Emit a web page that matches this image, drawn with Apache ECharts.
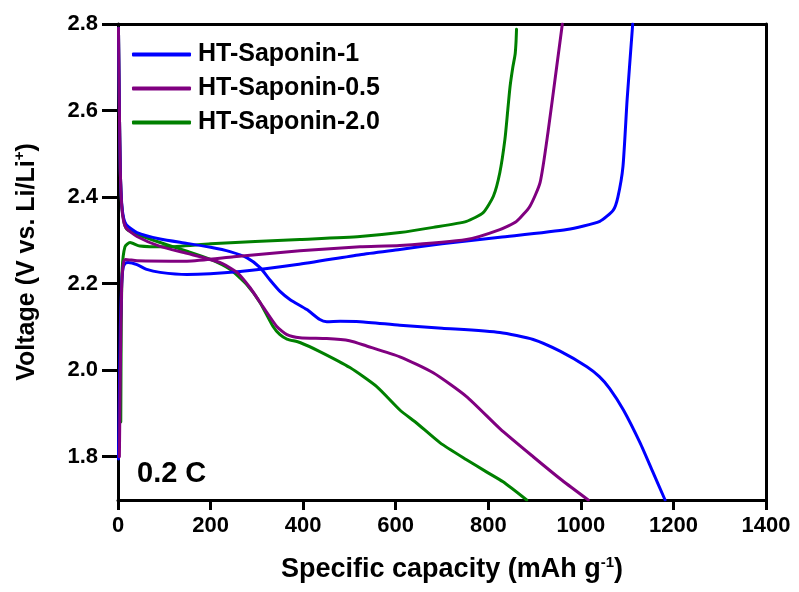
<!DOCTYPE html>
<html>
<head>
<meta charset="utf-8">
<title>Voltage profiles, 0.2 C</title>
<script src="https://cdn.jsdelivr.net/npm/echarts@6/dist/echarts.min.js"></script>
<style>
  html, body { margin: 0; padding: 0; background: #ffffff; }
  #chart { width: 799px; height: 592px; }
</style>
</head>
<body>
<div id="chart"></div>
<script>
// Series names and colours
const seriesNames = ['HT-Saponin-1', 'HT-Saponin-0.5', 'HT-Saponin-2.0'];
const seriesColors = ['#0000ff', '#800080', '#008000'];

// Axis ranges and ticks
const capacityTicks = [0, 200, 400, 600, 800, 1000, 1200, 1400];
const voltageTicks = [1.8, 2.0, 2.2, 2.4, 2.6, 2.8];

// HT-Saponin-1: [capacity (mAh/g), voltage (V)]
const saponin1Discharge = [
  [1, 2.79], [3, 2.6], [5, 2.46], [8, 2.385], [12, 2.352], [18, 2.336], [41, 2.318],
  [91, 2.303], [149, 2.293], [200, 2.284], [242, 2.274], [278, 2.26], [307, 2.237],
  [328, 2.209], [350, 2.182], [372, 2.163], [408, 2.14], [436, 2.117], [451, 2.112],
  [480, 2.113], [523, 2.112], [609, 2.104], [700, 2.097], [825, 2.087], [897, 2.071],
  [955, 2.044], [1013, 2.008], [1040, 1.985], [1062, 1.958], [1092, 1.908], [1128, 1.832],
  [1155, 1.766], [1182, 1.70]
];
const saponin1Charge = [
  [1, 1.795], [3, 1.95], [5, 2.1], [8, 2.2], [11, 2.237], [16, 2.247], [22, 2.249],
  [41, 2.244], [62, 2.233], [91, 2.226], [149, 2.221], [264, 2.228], [387, 2.244],
  [523, 2.267], [609, 2.279], [700, 2.292], [825, 2.307], [970, 2.325], [1041, 2.344],
  [1070, 2.37], [1080, 2.40], [1091, 2.471], [1100, 2.626], [1112, 2.80]
];

// HT-Saponin-0.5
const saponin05Discharge = [
  [1, 2.79], [3, 2.6], [5, 2.46], [8, 2.38], [12, 2.345], [18, 2.328], [41, 2.309],
  [91, 2.286], [149, 2.27], [220, 2.249], [257, 2.226], [285, 2.191], [313, 2.147],
  [343, 2.101], [365, 2.082], [393, 2.075], [451, 2.073], [500, 2.068], [537, 2.056],
  [609, 2.031], [681, 1.994], [753, 1.939], [825, 1.865], [897, 1.80], [960, 1.745],
  [1016, 1.70]
];
const saponin05Charge = [
  [3, 1.80], [5, 2.0], [8, 2.2], [12, 2.25], [16, 2.256], [41, 2.253], [149, 2.252],
  [250, 2.262], [393, 2.276], [523, 2.285], [609, 2.288], [753, 2.302], [825, 2.325],
  [861, 2.344], [890, 2.379], [912, 2.434], [929, 2.55], [948, 2.703], [960, 2.80]
];

// HT-Saponin-2.0
const saponin20Discharge = [
  [1, 2.79], [3, 2.6], [5, 2.46], [8, 2.38], [13, 2.342], [19, 2.326], [41, 2.314],
  [91, 2.295], [149, 2.275], [200, 2.256], [242, 2.233], [278, 2.198], [307, 2.156],
  [335, 2.101], [350, 2.082], [365, 2.072], [393, 2.064], [436, 2.043], [501, 2.006],
  [559, 1.962], [609, 1.908], [645, 1.878], [696, 1.832], [753, 1.793], [796, 1.765],
  [832, 1.742], [883, 1.70]
];
const saponin20Charge = [
  [6, 1.88], [7, 2.1], [9, 2.233], [15, 2.285], [26, 2.295], [47, 2.287], [105, 2.285],
  [200, 2.292], [393, 2.302], [523, 2.309], [609, 2.318], [681, 2.33], [753, 2.344],
  [789, 2.364], [811, 2.402], [825, 2.457], [836, 2.534], [842, 2.60], [847, 2.655],
  [853, 2.70], [858, 2.73], [860, 2.76], [861, 2.788]
];

const curves = [
  { name: seriesNames[2], color: seriesColors[2], data: saponin20Discharge },
  { name: seriesNames[2], color: seriesColors[2], data: saponin20Charge },
  { name: seriesNames[0], color: seriesColors[0], data: saponin1Discharge },
  { name: seriesNames[0], color: seriesColors[0], data: saponin1Charge },
  { name: seriesNames[1], color: seriesColors[1], data: saponin05Discharge },
  { name: seriesNames[1], color: seriesColors[1], data: saponin05Charge }
];

const FONT = '"Liberation Sans", Arial, Helvetica, sans-serif';
const axisLineStyle = { color: '#000', width: 3 };

const chart = echarts.init(document.getElementById('chart'), null, { renderer: 'canvas' });

chart.setOption({
  backgroundColor: '#ffffff',
  animation: false,
  grid: { left: 118, right: 33, top: 24, bottom: 92, containLabel: false },
  legend: {
    data: [seriesNames[0], seriesNames[1], seriesNames[2]],
    orient: 'vertical',
    left: 127,
    top: 37,
    icon: 'roundRect',
    itemWidth: 59,
    itemHeight: 4,
    itemGap: 9,
    textStyle: { fontFamily: FONT, fontWeight: 'bold', fontSize: 25, color: '#000', lineHeight: 24, padding: [0, 0, 0, 2] }
  },
  xAxis: [
    {
      type: 'value',
      min: 0, max: 1400, interval: 200,
      position: 'bottom',
      name: '{t|Specific capacity (mAh g}{s|-1}{t|)}',
      nameLocation: 'middle',
      nameGap: 55,
      nameTextStyle: {
        padding: [0, 0, 0, 20],
        rich: {
          t: { fontFamily: FONT, fontWeight: 'bold', fontSize: 27, color: '#000', lineHeight: 30 },
          s: { fontFamily: FONT, fontWeight: 'bold', fontSize: 15, color: '#000', verticalAlign: 'top', lineHeight: 30, padding: [0, 0, 10, 0] }
        }
      },
      axisLine: { show: true, onZero: false, lineStyle: axisLineStyle },
      axisTick: { show: true, inside: false, length: 10, lineStyle: { color: '#000', width: 3 } },
      axisLabel: {
        margin: 15, fontFamily: FONT, fontWeight: 'bold', fontSize: 22, color: '#000',
        customValues: capacityTicks,
        formatter: v => String(v)
      },
      splitLine: { show: false }
    },
    {
      type: 'value',
      min: 0, max: 1400,
      position: 'top',
      axisLine: { show: true, onZero: false, lineStyle: axisLineStyle },
      axisTick: { show: false },
      axisLabel: { show: false },
      splitLine: { show: false }
    }
  ],
  yAxis: [
    {
      type: 'value',
      min: 1.7, max: 2.8,
      position: 'left',
      name: '{t|Voltage (V vs. Li/Li}{s|+}{t|)}',
      nameLocation: 'middle',
      nameRotate: 90,
      nameGap: 76,
      nameTextStyle: {
        rich: {
          t: { fontFamily: FONT, fontWeight: 'bold', fontSize: 25, color: '#000', lineHeight: 30 },
          s: { fontFamily: FONT, fontWeight: 'bold', fontSize: 15, color: '#000', verticalAlign: 'top', lineHeight: 30, padding: [0, 0, 10, 0] }
        }
      },
      axisLine: { show: true, onZero: false, lineStyle: axisLineStyle },
      axisTick: { show: true, inside: false, length: 16, lineStyle: { color: '#000', width: 3 }, customValues: voltageTicks },
      axisLabel: {
        margin: 20, fontFamily: FONT, fontWeight: 'bold', fontSize: 22, color: '#000',
        customValues: voltageTicks,
        formatter: v => v.toFixed(1)
      },
      splitLine: { show: false }
    },
    {
      type: 'value',
      min: 1.7, max: 2.8,
      position: 'right',
      axisLine: { show: true, onZero: false, lineStyle: axisLineStyle },
      axisTick: { show: false },
      axisLabel: { show: false },
      splitLine: { show: false }
    }
  ],
  graphic: [
    {
      type: 'text',
      left: 137,
      top: 459,
      style: { text: '0.2 C', fontFamily: FONT, fontWeight: 'bold', fontSize: 29, fill: '#000' }
    }
  ],
  series: curves.map(c => ({
    type: 'line',
    name: c.name,
    xAxisIndex: 0,
    yAxisIndex: 0,
    data: c.data,
    showSymbol: false,
    symbol: 'none',
    smooth: 0.2,
    clip: true,
    lineStyle: { color: c.color, width: 3, cap: 'round', join: 'round' },
    itemStyle: { color: c.color },
    emphasis: { disabled: true }
  }))
});
</script>
</body>
</html>
